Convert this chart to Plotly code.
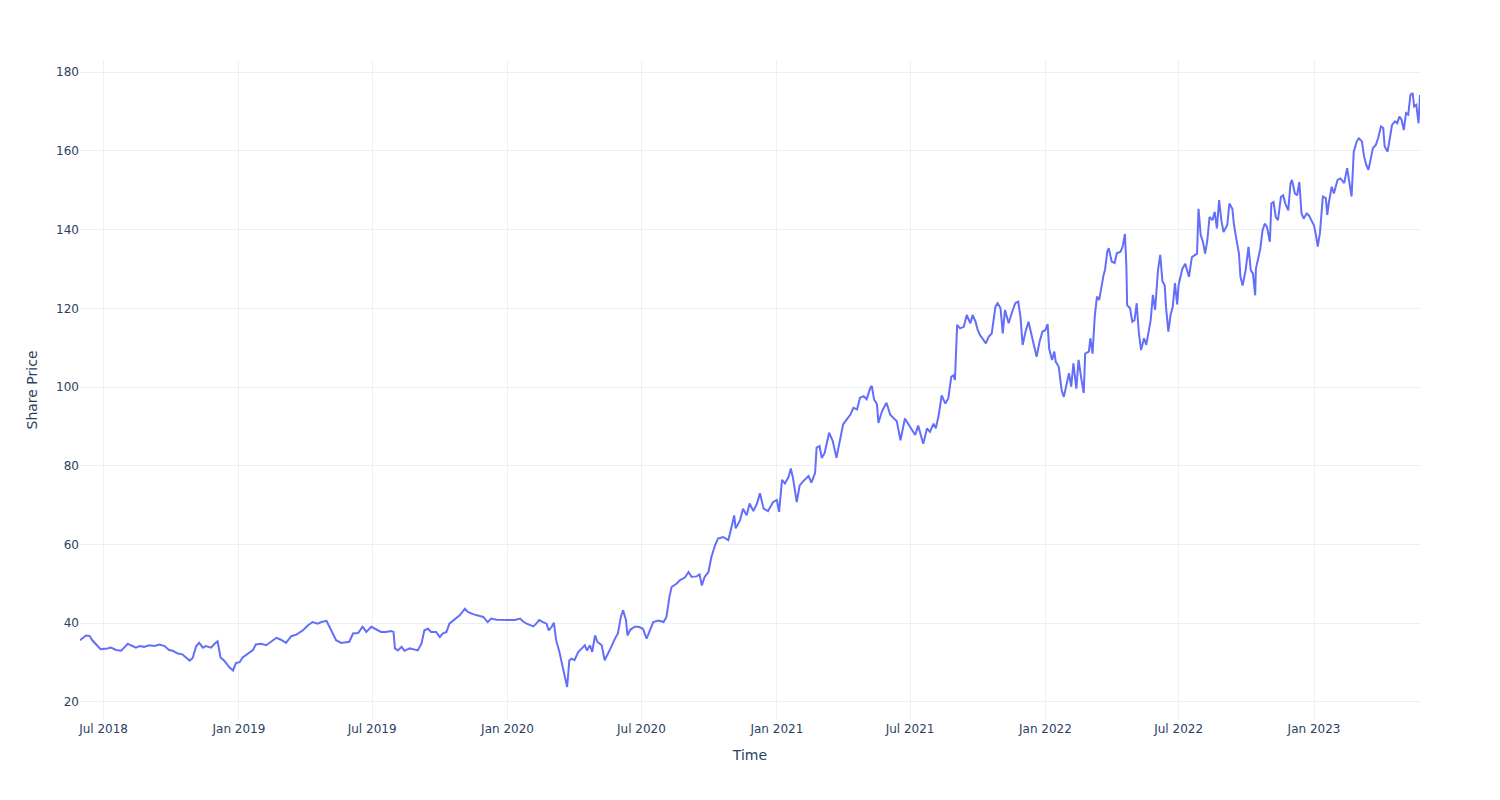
import plotly.graph_objects as go

dates = [
    "2018-05-30", "2018-06-07", "2018-06-12", "2018-06-16", "2018-06-21", "2018-06-27",
    "2018-07-06", "2018-07-11", "2018-07-18", "2018-07-25", "2018-07-29", "2018-08-03",
    "2018-08-07", "2018-08-14", "2018-08-19", "2018-08-25", "2018-09-01", "2018-09-08",
    "2018-09-15", "2018-09-22", "2018-09-28", "2018-10-03", "2018-10-10", "2018-10-16",
    "2018-10-21", "2018-10-26", "2018-10-30", "2018-11-04", "2018-11-08", "2018-11-13",
    "2018-11-17", "2018-11-24", "2018-11-29", "2018-12-03", "2018-12-07", "2018-12-12",
    "2018-12-19", "2018-12-24", "2018-12-28",
    "2019-01-02", "2019-01-06", "2019-01-13", "2019-01-20", "2019-01-24", "2019-01-31",
    "2019-02-07", "2019-02-14", "2019-02-21", "2019-02-27", "2019-03-06", "2019-03-13",
    "2019-03-20", "2019-03-29", "2019-04-05", "2019-04-11", "2019-04-18", "2019-04-23",
    "2019-04-30", "2019-05-04", "2019-05-09", "2019-05-13", "2019-05-20", "2019-05-27",
    "2019-05-31", "2019-06-05", "2019-06-12", "2019-06-18", "2019-06-23", "2019-06-30",
    "2019-07-07", "2019-07-13", "2019-07-20", "2019-07-27", "2019-07-30", "2019-08-01",
    "2019-08-05", "2019-08-10", "2019-08-14", "2019-08-21", "2019-08-28", "2019-09-01",
    "2019-09-06", "2019-09-10", "2019-09-15", "2019-09-19", "2019-09-26", "2019-10-01",
    "2019-10-05", "2019-10-10", "2019-10-14", "2019-10-21", "2019-10-28", "2019-11-04",
    "2019-11-08", "2019-11-15", "2019-11-22", "2019-11-29", "2019-12-05", "2019-12-10",
    "2019-12-17", "2019-12-24",
    "2020-01-02", "2020-01-11", "2020-01-18", "2020-01-23", "2020-01-27", "2020-01-31",
    "2020-02-05", "2020-02-09", "2020-02-13", "2020-02-18", "2020-02-23", "2020-02-26",
    "2020-03-01", "2020-03-04", "2020-03-07", "2020-03-11", "2020-03-14", "2020-03-17",
    "2020-03-20", "2020-03-22", "2020-03-25", "2020-03-28", "2020-04-01", "2020-04-06",
    "2020-04-11", "2020-04-15", "2020-04-18", "2020-04-22", "2020-04-25", "2020-04-29",
    "2020-05-02", "2020-05-08", "2020-05-12", "2020-05-17", "2020-05-21", "2020-05-26",
    "2020-05-30", "2020-06-03", "2020-06-06", "2020-06-10", "2020-06-12", "2020-06-16",
    "2020-06-22", "2020-06-27", "2020-07-03", "2020-07-08", "2020-07-12", "2020-07-17",
    "2020-07-24", "2020-07-31", "2020-08-04", "2020-08-08", "2020-08-11", "2020-08-18",
    "2020-08-22", "2020-08-29", "2020-09-03", "2020-09-07", "2020-09-14", "2020-09-18",
    "2020-09-21", "2020-09-25", "2020-09-30", "2020-10-04", "2020-10-09", "2020-10-13",
    "2020-10-20", "2020-10-27", "2020-11-01", "2020-11-04", "2020-11-06", "2020-11-12",
    "2020-11-16", "2020-11-21", "2020-11-25", "2020-11-30", "2020-12-05", "2020-12-09",
    "2020-12-14", "2020-12-20", "2020-12-27",
    "2021-01-01", "2021-01-04", "2021-01-08", "2021-01-12", "2021-01-17", "2021-01-20",
    "2021-01-23", "2021-01-28", "2021-02-01", "2021-02-06", "2021-02-13", "2021-02-17",
    "2021-02-22", "2021-02-24", "2021-02-28", "2021-03-03", "2021-03-07", "2021-03-13",
    "2021-03-18", "2021-03-23", "2021-03-28", "2021-04-01", "2021-04-06", "2021-04-11",
    "2021-04-15", "2021-04-20", "2021-04-24", "2021-04-29", "2021-05-03", "2021-05-08",
    "2021-05-10", "2021-05-13", "2021-05-17", "2021-05-19", "2021-05-24", "2021-05-30",
    "2021-06-04", "2021-06-08", "2021-06-13", "2021-06-18", "2021-06-24", "2021-06-29",
    "2021-07-03", "2021-07-08", "2021-07-12", "2021-07-19", "2021-07-24", "2021-07-28",
    "2021-08-02", "2021-08-05", "2021-08-09", "2021-08-13", "2021-08-18", "2021-08-22",
    "2021-08-26", "2021-08-29", "2021-08-31", "2021-09-03", "2021-09-07", "2021-09-12",
    "2021-09-16", "2021-09-21", "2021-09-24", "2021-09-28", "2021-10-01", "2021-10-04",
    "2021-10-09", "2021-10-12", "2021-10-16", "2021-10-20", "2021-10-25", "2021-10-28",
    "2021-11-01", "2021-11-04", "2021-11-07", "2021-11-12", "2021-11-16", "2021-11-21",
    "2021-11-25", "2021-11-28", "2021-12-01", "2021-12-05", "2021-12-09", "2021-12-13",
    "2021-12-17", "2021-12-20", "2021-12-24", "2021-12-28",
    "2022-01-01", "2022-01-04", "2022-01-06", "2022-01-10", "2022-01-13", "2022-01-15",
    "2022-01-19", "2022-01-23", "2022-01-26", "2022-01-29", "2022-02-02", "2022-02-05",
    "2022-02-08", "2022-02-12", "2022-02-15", "2022-02-19", "2022-02-22", "2022-02-24",
    "2022-03-01", "2022-03-03", "2022-03-06", "2022-03-09", "2022-03-12", "2022-03-15",
    "2022-03-18", "2022-03-21", "2022-03-23", "2022-03-26", "2022-03-28", "2022-04-01",
    "2022-04-05", "2022-04-08", "2022-04-13", "2022-04-16", "2022-04-19", "2022-04-21",
    "2022-04-22", "2022-04-26", "2022-04-29", "2022-05-02", "2022-05-05", "2022-05-08",
    "2022-05-11", "2022-05-15", "2022-05-18", "2022-05-21", "2022-05-24", "2022-05-27",
    "2022-05-30", "2022-06-03", "2022-06-06", "2022-06-09", "2022-06-12", "2022-06-14",
    "2022-06-17", "2022-06-20", "2022-06-23", "2022-06-26", "2022-06-29", "2022-07-01",
    "2022-07-06", "2022-07-10", "2022-07-15", "2022-07-19", "2022-07-26", "2022-07-28",
    "2022-07-31", "2022-08-03", "2022-08-06", "2022-08-09", "2022-08-12", "2022-08-16",
    "2022-08-19", "2022-08-22", "2022-08-25", "2022-08-28", "2022-08-31", "2022-09-05",
    "2022-09-08", "2022-09-12", "2022-09-14", "2022-09-17", "2022-09-21", "2022-09-23",
    "2022-09-26", "2022-09-30", "2022-10-04", "2022-10-07", "2022-10-10", "2022-10-13",
    "2022-10-14", "2022-10-17", "2022-10-20", "2022-10-23", "2022-10-26", "2022-10-29",
    "2022-11-02", "2022-11-04", "2022-11-07", "2022-11-10", "2022-11-13", "2022-11-17",
    "2022-11-20", "2022-11-23", "2022-11-27", "2022-11-30", "2022-12-02", "2022-12-06",
    "2022-12-09", "2022-12-12", "2022-12-15", "2022-12-18", "2022-12-22", "2022-12-25",
    "2022-12-29",
    "2023-01-01", "2023-01-04", "2023-01-06", "2023-01-09", "2023-01-11", "2023-01-13",
    "2023-01-17", "2023-01-19", "2023-01-21", "2023-01-25", "2023-01-28", "2023-02-02",
    "2023-02-06", "2023-02-11", "2023-02-15", "2023-02-18", "2023-02-21", "2023-02-24",
    "2023-02-28", "2023-03-03", "2023-03-07", "2023-03-10", "2023-03-13", "2023-03-16",
    "2023-03-19", "2023-03-22", "2023-03-26", "2023-03-29", "2023-04-02", "2023-04-05",
    "2023-04-07", "2023-04-11", "2023-04-14", "2023-04-17", "2023-04-21", "2023-04-24",
    "2023-04-27", "2023-04-30", "2023-05-03", "2023-05-06", "2023-05-09", "2023-05-12",
    "2023-05-15", "2023-05-17", "2023-05-20", "2023-05-23", "2023-05-25",
]

share_price = [
    35.7, 36.9, 36.8, 35.6, 34.6, 33.4,
    33.6, 33.8, 33.2, 33.0, 33.8, 34.8,
    34.4, 33.8, 34.2, 34.0, 34.4, 34.2,
    34.6, 34.2, 33.2, 33.0, 32.3, 32.1,
    31.3, 30.5, 31.1, 34.2, 35.0, 33.8,
    34.2, 33.8, 34.8, 35.4, 31.3, 30.5,
    28.8, 28.0, 29.9,
    30.1, 31.3, 32.3, 33.2, 34.6, 34.8,
    34.4, 35.4, 36.3, 35.8, 35.0, 36.7,
    37.1, 38.2, 39.5, 40.3, 39.9, 40.3,
    40.6, 39.1, 37.4, 35.7, 35.0, 35.3,
    35.3, 37.4, 37.5, 39.1, 37.8, 39.1,
    38.4, 37.8, 37.8, 38.0, 37.8, 33.6,
    33.1, 34.0, 33.0, 33.6, 33.3, 33.1,
    34.8, 38.2, 38.6, 37.8, 37.8, 36.5,
    37.4, 37.8, 39.9, 40.9, 42.0, 43.7,
    42.9, 42.3, 42.0, 41.6, 40.3, 41.2,
    40.9, 40.9,
    40.9, 40.8, 41.2, 40.3, 39.9, 39.5,
    39.2, 39.9, 40.8, 40.3, 39.9, 38.2,
    39.1, 40.1, 35.7, 33.1, 30.6, 28.0,
    25.5, 23.8, 30.6, 31.0, 30.6, 32.7,
    33.6, 34.4, 33.1, 34.4, 32.7, 36.9,
    35.3, 34.4, 30.6, 32.3, 34.0, 36.1,
    37.4, 41.6, 43.3, 40.8, 36.9, 38.4,
    39.1, 39.1, 38.6, 36.1, 37.8, 40.3,
    40.7, 40.3, 41.6, 46.7, 49.2, 50.1,
    50.9, 51.6, 53.0, 51.8, 51.9, 52.4,
    49.6, 51.8, 53.0, 56.8, 59.8, 61.5,
    61.9, 61.1, 64.9, 67.4, 64.1, 66.2,
    69.1, 67.4, 70.4, 68.5, 70.4, 73.0,
    69.1, 68.5, 70.8,
    71.3, 68.3, 76.4, 75.5, 77.2, 79.3,
    76.8, 70.8, 75.0, 76.1, 77.4, 75.7,
    78.2, 84.6, 85.0, 82.0, 83.3, 88.4,
    86.3, 82.0, 86.7, 90.5, 91.8, 93.0,
    94.7, 94.3, 97.3, 97.7, 96.9, 99.8,
    100.3, 96.9, 95.6, 90.9, 93.9, 96.0,
    93.0, 92.2, 91.3, 86.5, 92.0, 90.5,
    89.2, 87.8, 90.2, 85.6, 89.5, 88.6,
    90.7, 89.5, 92.9, 97.9, 95.8, 97.1,
    102.6, 103.0, 101.8, 115.8, 114.9, 115.3,
    118.3, 116.2, 118.3, 116.6, 114.5, 113.2,
    111.9, 111.1, 112.8, 113.6, 120.4, 121.3,
    120.0, 113.6, 119.6, 116.2, 118.7, 121.3,
    121.7, 117.9, 110.7, 114.1, 116.6, 113.2,
    109.8, 107.7, 111.5, 114.1,
    114.5, 116.0, 109.8, 106.9, 109.0, 106.4,
    105.2, 99.2, 97.5, 100.1, 103.5, 100.1,
    106.0, 99.6, 106.9, 101.8, 98.5, 108.5,
    109.0, 112.4, 108.5, 117.9, 123.0, 122.1,
    125.9, 128.5, 129.8, 134.4, 135.3, 131.9,
    131.5, 134.0, 134.4, 135.7, 138.9, 130.6,
    120.8, 120.0, 116.6, 117.0, 121.3, 113.6,
    109.4, 112.4, 110.7, 114.5, 117.0, 123.4,
    119.6, 129.8, 133.6, 126.8, 125.9, 120.0,
    114.1, 118.3, 120.4, 126.4, 121.0, 126.0,
    130.0, 131.3, 128.0, 133.0, 133.9, 145.3,
    138.6, 136.9, 133.9, 137.3, 143.2, 142.4,
    144.5, 140.3, 147.5, 142.4, 139.4, 141.1,
    146.6, 145.3, 141.5, 138.1, 133.9, 128.0,
    125.8, 129.7, 135.6, 129.7, 128.8, 123.3,
    130.1, 132.6, 135.2, 139.8, 141.5, 140.7,
    136.9, 146.6, 147.0, 143.2, 142.4, 148.3,
    148.7, 146.6, 144.9, 151.7, 152.6, 149.2,
    148.7, 152.1, 144.1, 142.8, 144.1, 143.6,
    142.0,
    141.0, 138.2, 135.7, 139.1, 144.1, 148.4,
    148.0, 143.7, 146.7, 150.9, 149.2, 152.6,
    153.0, 151.8, 155.6, 152.2, 148.4, 159.8,
    162.4, 163.2, 162.4, 158.6, 156.4, 155.2,
    157.7, 160.7, 161.5, 163.2, 166.2, 165.8,
    161.1, 159.8, 163.2, 166.6, 167.5, 167.0,
    168.7, 167.9, 165.3, 169.6, 169.2, 174.2,
    174.7, 171.3, 171.7, 167.0, 174.2,
]

x_title = "Time"
y_title = "Share Price"

fig = go.Figure()
fig.add_trace(go.Scatter(
    x=dates, y=share_price, mode="lines",
    line=dict(color="#636efa", width=2),
    name="Share Price", showlegend=False,
))
fig.update_layout(
    template="plotly_white",
    font=dict(family="DejaVu Sans"),
    width=1500, height=800,
    margin=dict(l=80, r=80, t=60, b=80),
    xaxis=dict(title=dict(text=x_title), dtick="M6", tick0="2018-01-01", tickformat="%b %Y"),
    yaxis=dict(title=dict(text=y_title)),
)
fig.write_html("out.html")
